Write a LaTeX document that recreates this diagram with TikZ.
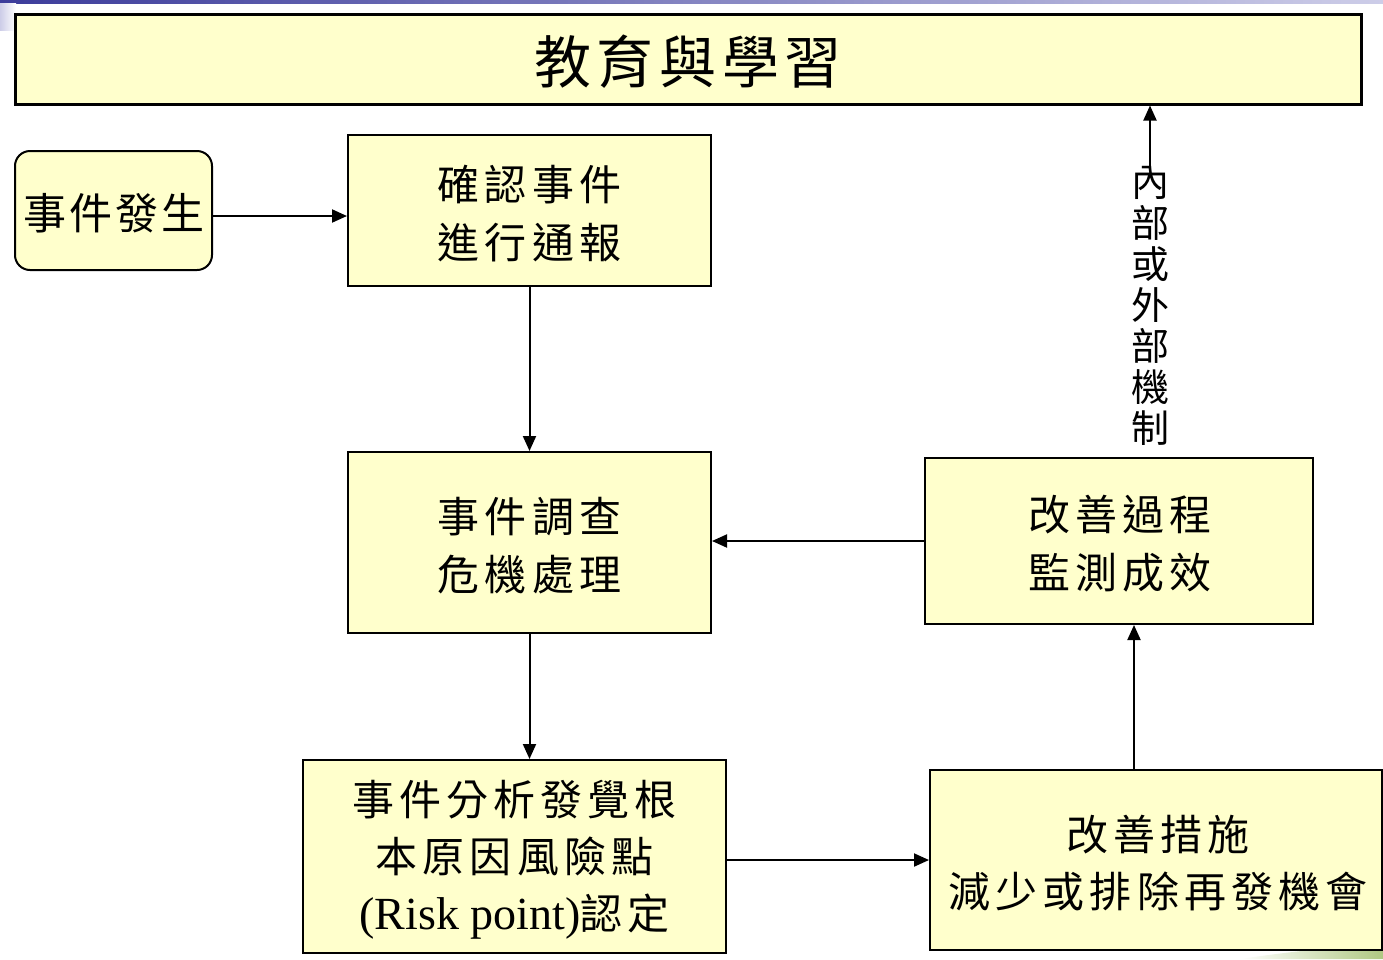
\documentclass[tikz,border=0pt]{standalone}
\usepackage{fontspec}
\setmainfont{Noto Sans CJK TC}
\newfontfamily\cjkls[LetterSpace=12]{Noto Sans CJK TC}
\newfontfamily\cjktitle[LetterSpace=10]{Noto Sans CJK TC}
\newfontfamily\cjkstart[LetterSpace=7]{Noto Sans CJK TC}
\newfontfamily\cjkv{Noto Sans CJK TC}
\newfontfamily\latser{Liberation Serif}
\usetikzlibrary{arrows.meta,calc}
\definecolor{boxfill}{RGB}{255,255,204}
\definecolor{bardark}{RGB}{60,60,155}
\definecolor{barlight}{RGB}{205,205,232}
\definecolor{swoosh}{RGB}{175,200,130}
\begin{document}
\begin{tikzpicture}[x=1pt,y=-1pt,
  boxst/.style={draw=black, line width=2pt, fill=boxfill, inner sep=0pt, align=center,
    font=\cjkls\fontsize{42}{58}\selectfont},
  txt/.style={align=center, inner sep=0pt},
  arr/.style={line width=2pt, -{Triangle[length=15pt,width=13pt]}}]
\useasboundingbox (0,0) rectangle (1383,959);
% slide decoration
\shade[left color=bardark, right color=barlight] (0,0) rectangle (1383,3);
\shade[left color=barlight, right color=white] (0,3) rectangle (16,30);
\shade[left color=white, right color=swoosh] (1240,959) .. controls (1300,950) and (1350,946) .. (1383,944) -- (1383,959) -- cycle;
% boxes
\node[boxst, line width=3pt, minimum width=1346pt, minimum height=90pt] (edu) at (688,59) {};
\node[txt, font=\cjktitle\fontsize{57}{60}\selectfont] (edut) at (688,62) {教育與學習};
\node[boxst, rounded corners=15pt, minimum width=197pt, minimum height=119pt] (start) at (113.5,210.5) {};
\node[txt, font=\cjkstart\fontsize{43}{50}\selectfont] (startt) at (114,213) {事件發生};
\node[boxst, minimum width=363pt, minimum height=151pt] (conf) at (529.5,210.5) {};
\node[txt, font=\cjkls\fontsize{42}{58}\selectfont] (conft) at (529.5,214) {確認事件\\進行通報};
\node[boxst, minimum width=363pt, minimum height=181pt] (inv) at (529.5,542.5) {};
\node[txt, font=\cjkls\fontsize{42}{58}\selectfont] (invt) at (529.5,546) {事件調查\\危機處理};
\node[boxst, minimum width=423pt, minimum height=193pt] (ana) at (514.5,856.5) {};
\node[txt, font=\cjkls\fontsize{42}{57}\selectfont] (anat) at (514.5,860)
  {事件分析發覺根\\本原因風險點\\{\latser\fontsize{46}{57}\selectfont (Risk point)}認定};
\node[boxst, minimum width=388pt, minimum height=166pt] (imp) at (1119,541) {};
\node[txt, font=\cjkls\fontsize{42}{58}\selectfont] (impt) at (1120,544) {改善過程\\監測成效};
\node[boxst, minimum width=452pt, minimum height=180pt] (act) at (1156,860) {};
\node[txt, font=\cjkls\fontsize{42}{57}\selectfont] (actt) at (1158,863) {改善措施\\減少或排除再發機會};
\node[txt, font=\cjkv\fontsize{38}{41}\selectfont] (lbl) at (1150,306)
  {內\\部\\或\\外\\部\\機\\制};
% connectors
\draw[arr] ([yshift=-5.5pt]start.east) -- ([yshift=-5.5pt]start.east -| conf.west);
\draw[arr] (conf.south) -- (inv.north);
\draw[arr] (inv.south) -- (inv.south |- ana.north);
\draw[arr] ([yshift=-3.5pt]ana.east) -- ([yshift=-3.5pt]ana.east -| act.west);
\draw[arr] ([xshift=-22pt]act.north) -- ([xshift=-22pt]act.north |- imp.south);
\draw[arr] (imp.west) -- (imp.west -| inv.east);
\draw[arr] (lbl.north) -- (lbl.north |- edu.south);
\end{tikzpicture}
\end{document}
